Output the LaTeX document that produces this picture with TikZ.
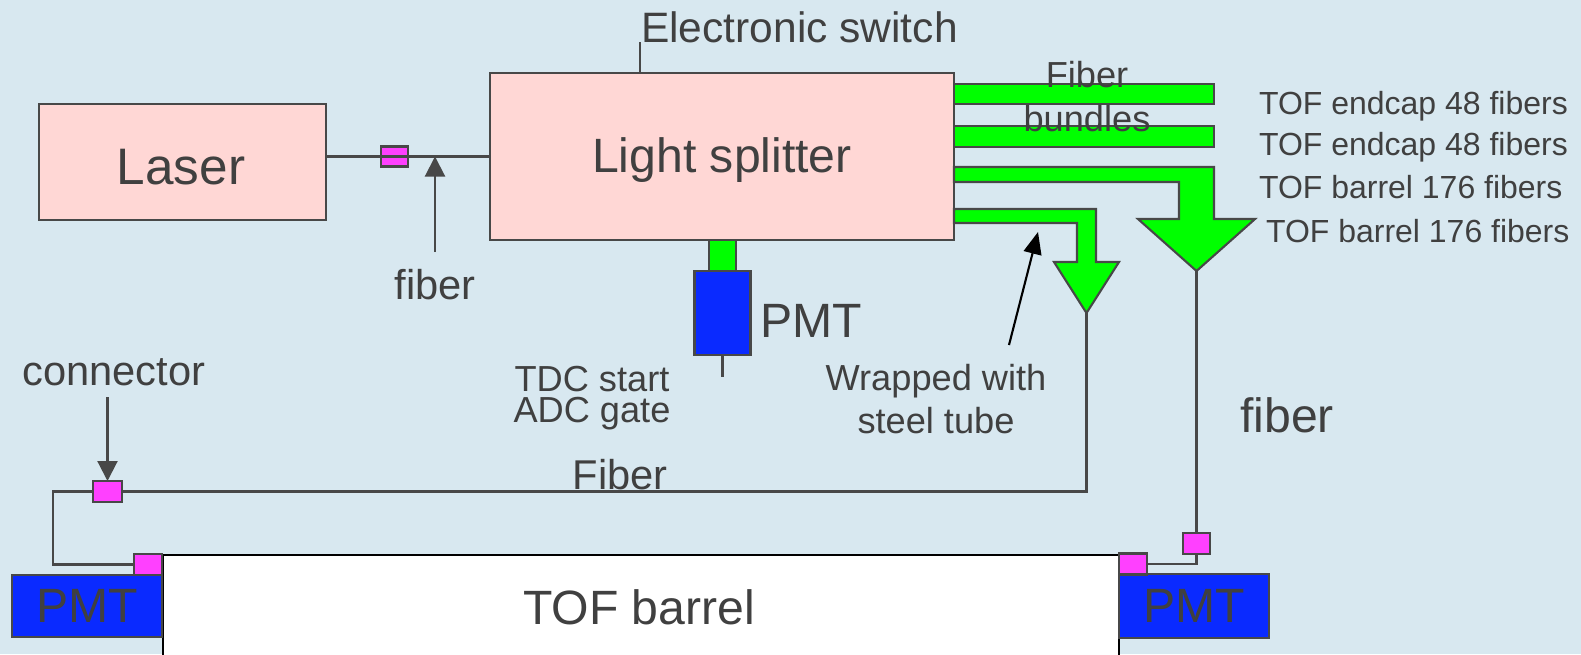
\documentclass[tikz,border=0pt]{standalone}
\usepackage{fontspec}
\setmainfont{Liberation Sans}
\usetikzlibrary{arrows.meta,positioning}
\definecolor{bgblue}{RGB}{216,232,240}
\definecolor{boxpink}{RGB}{255,215,213}
\definecolor{connmag}{RGB}{255,64,255}
\definecolor{pmtblue}{RGB}{10,42,255}
\definecolor{fibgreen}{RGB}{0,255,0}
\definecolor{linegray}{RGB}{72,72,72}
\definecolor{txtgray}{RGB}{64,64,64}

\begin{document}
\begin{tikzpicture}[line width=0.6pt,
  every node/.style={text=txtgray},
  box/.style={draw=linegray,line width=0.6pt,inner sep=0pt,outer sep=0pt},
  pinkbox/.style={box,fill=boxpink},
  magbox/.style={box,fill=connmag},
  pmtbox/.style={box,fill=pmtblue},
  bundle/.style={draw=linegray,fill=fibgreen,line width=0.6pt},
  fib/.style={draw=linegray,line width=0.6pt},
  pointer/.style={-{Triangle[length=2mm,width=2mm]},draw=linegray,fill=linegray,line width=0.6pt},
  bigtxt/.style={font=\fontsize{13.7pt}{16pt}\selectfont},
  midtxt/.style={font=\fontsize{11.85pt}{14pt}\selectfont},
  smalltxt/.style={font=\fontsize{10.3pt}{12pt}\selectfont},
  tinytxt/.style={font=\fontsize{9.1pt}{11pt}\selectfont}]
  \clip (0,0) rectangle (15.81,6.54);
  \fill[bgblue] (0,0) rectangle (15.81,6.54);

  % laser and splitter
  \node[pinkbox,minimum width=2.87cm,minimum height=1.16cm] (laser) at (1.825,4.92) {};
  \node[font=\fontsize{14.6pt}{17pt}\selectfont] (laserlabel) at (1.81,4.87) {Laser};
  \node[pinkbox,minimum width=4.64cm,minimum height=1.67cm] (splitter) at (7.22,4.975) {};
  \node[bigtxt] (splitlabel) at (7.22,4.935) {Light splitter};
  \node[magbox,minimum width=0.27cm,minimum height=0.20cm] (lcon) at (3.945,4.975) {};
  \draw[fib] (laser.east |- splitter.west) -- (splitter.west);
  \coordinate (fibtip) at (4.35,4.975);
  \coordinate (fibtail) at (4.35,4.02);
  \draw[pointer] (fibtail) -- (fibtip);
  \node[midtxt] (fiblabel) at (4.35,3.69) {fiber};

  % switch
  \coordinate (swtop) at (6.40,6.12);
  \draw[fib] (splitter.north -| swtop) -- (swtop);
  \node[font=\fontsize{12.1pt}{14pt}\selectfont,anchor=base west,inner sep=0pt] (switch) at (swtop) {Electronic switch};

  % trigger pmt
  \node[box,fill=fibgreen,minimum width=0.27cm,minimum height=0.31cm,anchor=north] (pmtcoup) at (7.225,4.14) {};
  \node[pmtbox,minimum width=0.56cm,minimum height=0.84cm,anchor=north] (pmtS) at (pmtcoup.south) {};
  \coordinate (pmtout) at (7.225,2.77);
  \draw[fib] (pmtS.south) -- (pmtout);
  \node[bigtxt,inner sep=0pt,right=0.09cm of pmtS,yshift=-0.08cm] (pmtSlabel) {PMT};
  \node[align=center,font=\fontsize{10.3pt}{8.9pt}\selectfont] (tdc) at (5.92,2.56) {TDC start\\ADC gate};

  % fiber bundles
  \draw[bundle] (9.54,5.50) rectangle (12.14,5.70);
  \draw[bundle] (9.54,5.07) rectangle (12.14,5.28);
  \draw[bundle] (9.54,4.87) -- (12.14,4.87) -- (12.14,4.35) -- (12.55,4.35) -- (11.965,3.83)
    -- (11.38,4.35) -- (11.79,4.35) -- (11.79,4.72) -- (9.54,4.72) -- cycle;
  \draw[bundle] (9.54,4.45) -- (10.96,4.45) -- (10.96,3.92) -- (11.19,3.92) -- (10.865,3.41)
    -- (10.54,3.92) -- (10.77,3.92) -- (10.77,4.31) -- (9.54,4.31) -- cycle;
  \coordinate (tip3) at (11.965,3.83);
  \coordinate (tip4) at (10.865,3.41);
  \node[align=center,font=\fontsize{10.3pt}{12.5pt}\selectfont] (bundles) at (10.87,5.575) {Fiber\\bundles};
  \node[tinytxt,anchor=base west,inner sep=0pt] (lab1) at (12.58,5.40) {TOF endcap 48 fibers};
  \node[tinytxt,anchor=base west,inner sep=0pt] (lab2) at (12.58,4.99) {TOF endcap 48 fibers};
  \node[tinytxt,anchor=base west,inner sep=0pt] (lab3) at (12.58,4.56) {TOF barrel 176 fibers};
  \node[tinytxt,anchor=base west,inner sep=0pt] (lab4) at (12.65,4.12) {TOF barrel 176 fibers};

  % steel tube note
  \node[smalltxt,align=center] (wrapped) at (9.36,2.55) {Wrapped with\\steel tube};
  \coordinate (wraptail) at (10.09,3.09);
  \coordinate (wraptip) at (10.38,4.22);
  \draw[-{Triangle[length=2.2mm,width=1.8mm]},black,line width=0.6pt] (wraptail) -- (wraptip);

  % barrel
  \node[draw=black,fill=white,line width=0.5pt,inner sep=0pt,minimum width=9.56cm,minimum height=1.3cm,anchor=north west] (barrel) at (1.62,1.00) {};
  \node[bigtxt] (barrellabel) at (6.39,0.47) {TOF barrel};
  \node[pmtbox,minimum width=1.50cm,minimum height=0.62cm,bigtxt] (pmtL) at (0.87,0.48) {PMT};
  \node[pmtbox,minimum width=1.50cm,minimum height=0.64cm,bigtxt] (pmtR) at (11.94,0.48) {PMT};
  \node[magbox,minimum width=0.28cm,minimum height=0.21cm] (bconL) at (1.48,0.895) {};
  \node[magbox,minimum width=0.28cm,minimum height=0.21cm] (bconR) at (11.33,0.90) {};
  \node[magbox,minimum width=0.27cm,minimum height=0.21cm] (rcon) at (11.965,1.105) {};
  \node[magbox,minimum width=0.29cm,minimum height=0.21cm] (fcon) at (1.075,1.625) {};

  % fibers to barrel
  \draw[fib] (tip3) -- (rcon.north);
  \draw[fib] (rcon.south) |- (bconR.east);
  \draw[fib] (tip4) |- (fcon.east);
  \coordinate (lbend) at (0.53,1.625);
  \draw[fib] (fcon.west) -- (lbend) |- (bconL.west);
  \node[midtxt] (fiblow) at (6.20,1.79) {Fiber};
  \node[bigtxt] (fibright) at (12.87,2.39) {fiber};
  \coordinate (contail) at (1.075,2.57);
  \draw[pointer] (contail) -- (fcon.north);
  \node[midtxt] (conlabel) at (1.14,2.82) {connector};
\end{tikzpicture}
\end{document}
